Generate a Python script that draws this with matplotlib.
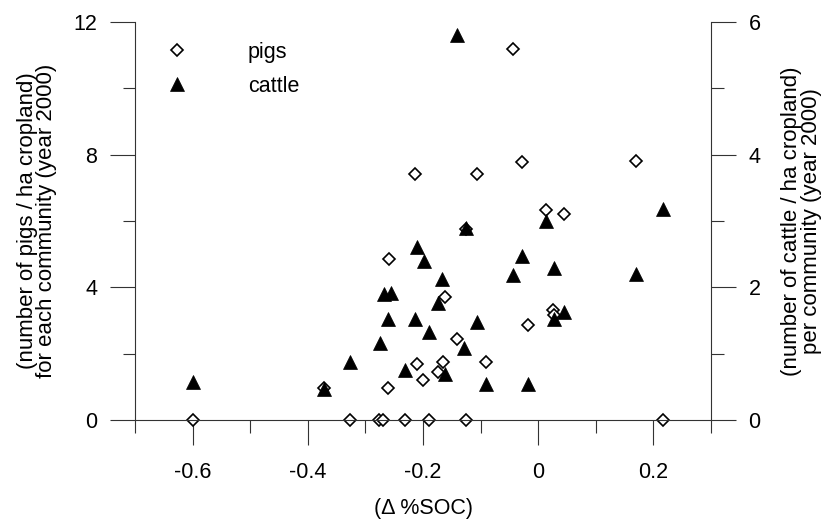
import matplotlib
matplotlib.use("Agg")
import matplotlib.pyplot as plt

plt.rcParams["font.family"] = ["Liberation Sans", "DejaVu Sans"]
plt.rcParams["axes.unicode_minus"] = False

# Δ%SOC 與每公頃耕地豬隻數（左軸）
pigs_x = [-0.600, -0.327, -0.276, -0.270, -0.232, -0.189, -0.126, 0.216,
          -0.372, -0.260, -0.210, -0.200, -0.166, -0.174, -0.141, -0.090,
          -0.162, -0.259, -0.214, -0.106, -0.126, -0.028, 0.013, 0.045,
          -0.018, 0.025, 0.027, 0.170, -0.044]
pigs_y = [0, 0, 0, 0, 0, 0, 0, 0,
          0.97, 0.95, 1.68, 1.21, 1.76, 1.46, 2.43, 1.76,
          3.70, 4.84, 7.42, 7.42, 5.75, 7.79, 6.33, 6.21,
          2.86, 3.32, 3.17, 7.82, 11.2]

# Δ%SOC 與每公頃耕地牛隻數（右軸）
cattle_x = [-0.600, -0.372, -0.326, -0.268, -0.256, -0.260, -0.214, -0.275,
            -0.231, -0.189, -0.174, -0.167, -0.162, -0.128, -0.106, -0.091,
            -0.210, -0.199, -0.126, -0.028, -0.044, 0.028, 0.045, 0.027,
            -0.018, 0.013, 0.216, 0.170, -0.141]
cattle_y = [0.57, 0.46, 0.87, 1.90, 1.92, 1.53, 1.52, 1.16,
            0.76, 1.32, 1.76, 2.12, 0.70, 1.09, 1.47, 0.54,
            2.61, 2.39, 2.89, 2.47, 2.19, 2.29, 1.63, 1.53,
            0.54, 3.00, 3.18, 2.20, 5.80]

x_major = [-0.6, -0.4, -0.2, 0, 0.2]
x_major_labels = ["-0.6", "-0.4", "-0.2", "0", "0.2"]
x_minor = [-0.7, -0.5, -0.3, -0.1, 0.1, 0.3]
left_major = [0, 4, 8, 12]
left_minor = [2, 6, 10]
right_major = [0, 2, 4, 6]
right_minor = [1, 3, 5]

FS = 15.5
LABEL_FS = 16
TICK_COLOR = "#333333"

fig = plt.figure(figsize=(8.35, 5.21), dpi=100)
ax = fig.add_axes([135 / 835, 1 - 420 / 521, 576 / 835, 398 / 521])
ax2 = ax.twinx()

h_pigs, = ax.plot(pigs_x, pigs_y, ls="none", marker="D", ms=6.5,
                  mfc="white", mec="black", mew=1.2, clip_on=False)
h_cattle, = ax2.plot(cattle_x, cattle_y, ls="none", marker="^", ms=9.5,
                     mfc="black", mec="black", mew=0.5, clip_on=False)

ax.set_xlim(-0.7, 0.3)
ax.set_ylim(0, 12)
ax2.set_ylim(0, 6)

ax.set_xticks(x_major)
ax.set_xticklabels(x_major_labels)
ax.set_xticks(x_minor, minor=True)
ax.set_yticks(left_major)
ax.set_yticks(left_minor, minor=True)
ax2.set_yticks(right_major)
ax2.set_yticks(right_minor, minor=True)

for a in (ax, ax2):
    a.spines["top"].set_visible(False)
    for s in a.spines.values():
        s.set_linewidth(0.8)
        s.set_color(TICK_COLOR)
    a.tick_params(which="major", direction="out", length=18, width=0.8,
                  color=TICK_COLOR, pad=9, labelsize=FS)
    a.tick_params(which="minor", direction="out", length=9, width=0.8,
                  color=TICK_COLOR)
ax.tick_params(axis="x", which="major", pad=12)
ax.spines["right"].set_visible(False)
ax2.spines["left"].set_visible(False)
ax2.spines["bottom"].set_visible(False)

ax.set_xlabel("(Δ %SOC)", fontsize=FS)
ax.xaxis.set_label_coords(0.5, -0.195)
ax.set_ylabel("(number of pigs / ha cropland)\nfor each community (year 2000)",
              fontsize=LABEL_FS, linespacing=0.9)
ax.yaxis.set_label_coords(-0.135, 0.5)
ax2.set_ylabel("(number of cattle / ha cropland)\nper community (year 2000)",
               fontsize=LABEL_FS, linespacing=0.9, rotation=90)
ax2.yaxis.set_label_coords(1.122, 0.5)

ax2.legend([h_pigs, h_cattle], ["pigs", "cattle"], loc="upper left",
           bbox_to_anchor=(0.035, 0.95), frameon=False, borderaxespad=0,
           borderpad=0, handlelength=2, handletextpad=2.3, labelspacing=0.6,
           fontsize=FS, numpoints=1)

fig.savefig("out.png", dpi=100)
